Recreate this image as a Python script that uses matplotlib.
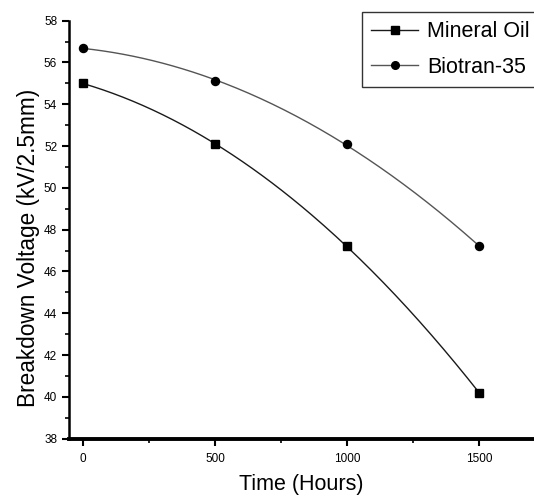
import numpy as np
import matplotlib
matplotlib.use("Agg")
import matplotlib.pyplot as plt
from matplotlib.ticker import MultipleLocator

plt.rcParams['font.family'] = ['Liberation Sans', 'DejaVu Sans']

time_hours = [0, 500, 1000, 1500]
mineral_oil = [55.0, 52.1, 47.2, 40.2]
biotran_35 = [56.7, 55.1, 52.1, 47.2]
series_names = ["Mineral Oil", "Biotran-35"]

fig = plt.figure(figsize=(5.34, 4.98), dpi=100)
ax = fig.add_axes([69/534, 1-438.7/498, 1-69/534, (438.7-20.7)/498])

xs = np.linspace(0, 1500, 200)
for vals, name, col, mk in [(mineral_oil, series_names[0], '#1a1a1a', 's'),
                            (biotran_35, series_names[1], '#555555', 'o')]:
    coef = np.polyfit(time_hours, vals, 2)
    ax.plot(xs, np.polyval(coef, xs), color=col, lw=1.0)
    ax.plot(time_hours, vals, linestyle='none', marker=mk, color='black', ms=5.8)
    ax.plot([], [], color=col, lw=1.0, marker=mk, mfc='black', mec='black', ms=5.5, label=name)

ax.set_xlim(-53, 1708)
ax.set_ylim(38, 58)
ax.set_xticks([0, 500, 1000, 1500])
ax.set_yticks(np.arange(38, 59, 2))
ax.xaxis.set_minor_locator(MultipleLocator(250))
ax.yaxis.set_minor_locator(MultipleLocator(1))
ax.tick_params(which='major', direction='out', length=5, width=1.5, labelsize=8.5)
ax.tick_params(axis='x', which='major', pad=5)
ax.tick_params(which='minor', direction='out', length=3, width=1.2)
for s in ['top', 'right']:
    ax.spines[s].set_visible(False)
ax.spines['left'].set_linewidth(1.8)
ax.spines['bottom'].set_linewidth(2.8)

ax.set_xlabel("Time (Hours)", fontsize=15.5, labelpad=7)
ax.set_ylabel("Breakdown Voltage (kV/2.5mm)", fontsize=16.3)
ax.yaxis.set_label_coords(-0.062, 0.456)

leg = fig.legend(loc='upper left', bbox_to_anchor=(362/534, 1-12/498), fontsize=15.5,
                 frameon=True, fancybox=False, edgecolor='black', handlelength=2.2,
                 borderpad=0.42, labelspacing=0.68, handletextpad=0.4, borderaxespad=0)
leg.get_frame().set_linewidth(1.0)

fig.savefig("out.png", dpi=100)
